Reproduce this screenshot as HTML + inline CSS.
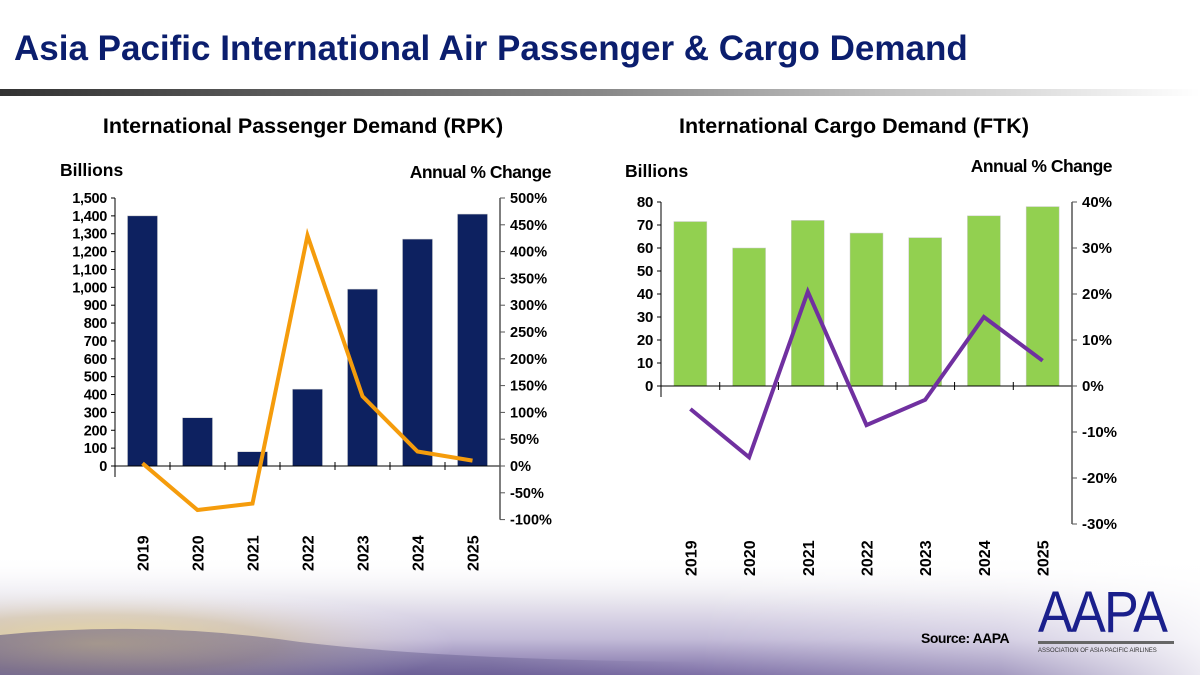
<!DOCTYPE html>
<html><head><meta charset="utf-8"><style>
html,body{margin:0;padding:0}
body{width:1200px;height:675px;position:relative;overflow:hidden;font-family:"Liberation Sans",Arial,sans-serif;background:#fff}
#sky{position:absolute;left:0;top:0;width:1200px;height:675px}
</style></head><body>
<svg id="sky" width="1200" height="675">
<defs>
<linearGradient id="bar" x1="0" x2="1"><stop offset="0" stop-color="#333"/><stop offset="0.5" stop-color="#888"/><stop offset="1" stop-color="#fff"/></linearGradient>
<linearGradient id="skyg" x1="0" y1="0" x2="0" y2="1"><stop offset="0" stop-color="#fff" stop-opacity="0"/><stop offset="0.35" stop-color="#eceaf1"/><stop offset="0.7" stop-color="#c3bbd8"/><stop offset="1" stop-color="#7d6fa6"/></linearGradient>
<radialGradient id="sun" cx="0.15" cy="0.7" r="0.55"><stop offset="0" stop-color="#f1e0a0"/><stop offset="0.5" stop-color="#dcc994" stop-opacity="0.5"/><stop offset="1" stop-color="#fff" stop-opacity="0"/></radialGradient>
<linearGradient id="fade" x1="0" x2="1"><stop offset="0" stop-color="#fff" stop-opacity="0"/><stop offset="0.6" stop-color="#fff" stop-opacity="0.3"/><stop offset="1" stop-color="#fff" stop-opacity="0.85"/></linearGradient>
<linearGradient id="cloud" x1="0" x2="1"><stop offset="0" stop-color="#4a4178" stop-opacity="0.5"/><stop offset="0.7" stop-color="#4a4178" stop-opacity="0.3"/><stop offset="1" stop-color="#4a4178" stop-opacity="0"/></linearGradient>
</defs>
<rect x="0" y="555" width="1200" height="120" fill="url(#skyg)"/>
<rect x="0" y="570" width="650" height="105" fill="url(#sun)"/>
<path d="M0 635 Q150 620 300 642 Q450 660 700 662 L700 675 L0 675Z" fill="url(#cloud)"/>
<rect x="700" y="555" width="500" height="120" fill="url(#fade)"/>
<rect x="0" y="89" width="1200" height="7" fill="url(#bar)"/>
</svg>
<div style="position:absolute;left:14px;top:29px;font-size:35px;font-weight:bold;color:#0b1e6e;white-space:nowrap">Asia Pacific International Air Passenger &amp; Cargo Demand</div>
<svg id="c" width="1200" height="675" style="position:absolute;left:0;top:0" font-family="Liberation Sans, Arial, sans-serif" font-weight="bold"></svg>
<div style="position:absolute;left:921px;top:630px;font-size:14px;font-weight:bold;letter-spacing:-0.5px">Source: AAPA</div>
<div style="position:absolute;left:1038px;top:584px;width:136px">
<div style="font-size:58px;line-height:58px;color:#1a1f8c;letter-spacing:-2px;transform:scaleX(0.9);transform-origin:left;white-space:nowrap">AAPA</div>
<div style="height:3px;background:#666;margin-top:-1px"></div>
<div style="font-size:6px;color:#333;margin-top:4px;white-space:nowrap">ASSOCIATION OF ASIA PACIFIC AIRLINES</div>
</div>
<script>
const years=['2019','2020','2021','2022','2023','2024','2025'];
const rpkValues=[1400,270,80,430,990,1270,1410];
const rpkChange=[5,-82,-70,430,130,27,10];
const ftkValues=[71.5,60,72,66.5,64.5,74,78];
const ftkChange=[-5,-15.5,20.5,-8.5,-3,15,5.5];
const rpkLeftTicks=[0,100,200,300,400,500,600,700,800,900,1000,1100,1200,1300,1400,1500];
const rpkRightTicks=[-100,-50,0,50,100,150,200,250,300,350,400,450,500];
const ftkLeftTicks=[0,10,20,30,40,50,60,70,80];
const ftkRightTicks=[-30,-20,-10,0,10,20,30,40];
const svg=document.getElementById('c');const NS='http://www.w3.org/2000/svg';
function el(t,a,txt){const e=document.createElementNS(NS,t);for(const k in a)e.setAttribute(k,a[k]);if(txt!=null)e.textContent=txt;svg.appendChild(e);return e;}
function fmt(v){return v.toLocaleString('en-US');}
function chart(o){
 const x0=o.x0,x1=o.x1,n=years.length,cw=(x1-x0)/n;
 const yL=v=>o.zeroY-(v/o.lMax)*(o.zeroY-o.topY);
 const yR=v=>o.zeroY-(v/o.rMax)*(o.zeroY-o.topY);
 const cx=i=>x0+cw*(i+0.5);
 let t=el('text',{x:o.titleX,y:o.titleY,'font-size':21.5,'text-anchor':'middle',fill:'#000'},o.title);
 
 t=el('text',{x:o.bilX,y:o.bilY,'font-size':17.5},'Billions');
 
 t=el('text',{x:o.pctX,y:o.pctY,'font-size':17.5,'text-anchor':'end','letter-spacing':-0.5},'Annual % Change');
 
 o.vals.forEach((v,i)=>{const r=el('rect',{x:cx(i)-o.bw/2,y:yL(v),width:o.bw,height:o.zeroY-yL(v),fill:o.barColor,stroke:'#ccc','stroke-width':0.5});
  });
 el('line',{x1:x0,y1:yL(o.lMax),x2:x0,y2:o.zeroY+11,stroke:'#000','stroke-width':1});
 el('line',{x1:x0,y1:o.zeroY,x2:x1,y2:o.zeroY,stroke:'#000','stroke-width':1});
 for(let i=1;i<n;i++)el('line',{x1:x0+cw*i,y1:o.zeroY-4,x2:x0+cw*i,y2:o.zeroY+4,stroke:'#000'});
 el('line',{x1:x1,y1:yR(o.rMax),x2:x1,y2:yR(o.rMin),stroke:'#555','stroke-width':1.5});
 o.lTicks.forEach(v=>{el('line',{x1:x0-4,y1:yL(v),x2:x0,y2:yL(v),stroke:'#000'});
  const tt=el('text',{x:x0-8,y:yL(v)+5,'font-size':o.fs,'text-anchor':'end','letter-spacing':-0.3},fmt(v));
  });
 o.rTicks.forEach(v=>{el('line',{x1:x1,y1:yR(v),x2:x1+5,y2:yR(v),stroke:'#555'});
  const tt=el('text',{x:x1+10,y:yR(v)+5,'font-size':o.fs},v+'%');
  });
 years.forEach((y,i)=>{const tt=el('text',{transform:`translate(${cx(i)+6},${o.yearY}) rotate(-90)`,'font-size':16},y);
  });
 const pts=o.chg.map((v,i)=>cx(i).toFixed(1)+','+yR(v).toFixed(1)).join(' ');
 const pl=el('polyline',{points:pts,fill:'none',stroke:o.lineColor,'stroke-width':4,'stroke-linejoin':'miter'});
 
}
chart({id:'rpk',x0:115,x1:500,zeroY:466,topY:198,lMax:1500,rMax:500,rMin:-100,bw:30,vals:rpkValues,chg:rpkChange,
 lTicks:rpkLeftTicks,rTicks:rpkRightTicks,barColor:'#0d2160',lineColor:'#f59c0c',fs:14.5,yearY:571,
 title:'International Passenger Demand (RPK)',titleX:303,titleY:133,bilX:60,bilY:176,pctX:551,pctY:178});
chart({id:'ftk',x0:661,x1:1072,zeroY:386,topY:202,lMax:80,rMax:40,rMin:-30,bw:33,vals:ftkValues,chg:ftkChange,
 lTicks:ftkLeftTicks,rTicks:ftkRightTicks,barColor:'#92d050',lineColor:'#7030a0',fs:15,yearY:576,
 title:'International Cargo Demand (FTK)',titleX:854,titleY:133,bilX:625,bilY:177,pctX:1112,pctY:172});
</script>
</body></html>
